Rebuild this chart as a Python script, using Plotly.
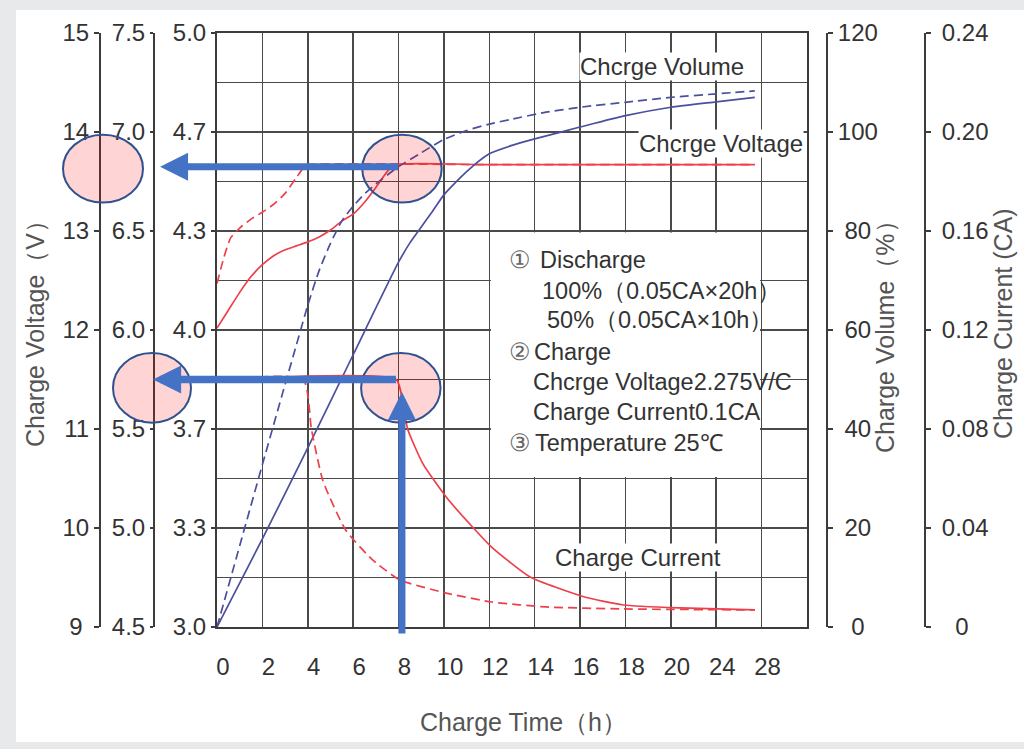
import plotly.graph_objects as go

# ---------------- data ----------------
hour_ticks = [0, 2, 4, 6, 8, 10, 12, 14, 16, 18, 20, 22, 24]
hour_tick_text = ["0", "2", "4", "6", "8", "10", "12", "14", "16", "18", "20", "24", "28"]

v12_ticks = [9, 10, 11, 12, 13, 14, 15]
v12_tick_text = ["9\u00a0", "10", "11", "12", "13", "14", "15"]
v6_ticks = [4.5, 5.0, 5.5, 6.0, 6.5, 7.0, 7.5]
v6_tick_text = ["4.5", "5.0", "5.5", "6.0", "6.5", "7.0", "7.5"]
cell_ticks = [3.0, 10 / 3, 11 / 3, 4.0, 13 / 3, 14 / 3, 5.0]
cell_tick_text = ["3.0", "3.3", "3.7", "4.0", "4.3", "4.7", "5.0"]
cell_minor = [3 + 1 / 6, 3.5, 3 + 5 / 6, 4 + 1 / 6, 4.5, 4 + 5 / 6]
volume_ticks = [0, 20, 40, 60, 80, 100, 120]
volume_tick_text = ["\u00a0\u00a00", "\u00a020", "\u00a040", "\u00a060", "\u00a080", "100", "120"]
current_ticks = [0, 0.04, 0.08, 0.12, 0.16, 0.20, 0.24]
current_tick_text = ["\u00a0\u00a00", "0.04", "0.08", "0.12", "0.16", "0.20", "0.24"]

# charge voltage (V, 12 V scale)
t_volt_100 = [0, 0.5, 1, 1.5, 2, 2.5, 3, 3.5, 4, 4.5, 5, 5.5, 6, 6.5, 7, 7.5, 7.85, 12, 18, 23.7]
volt_100 = [12.02, 12.2, 12.38, 12.54, 12.66, 12.75, 12.81, 12.85, 12.89, 12.94, 13.01, 13.1,
            13.17, 13.29, 13.44, 13.6, 13.67, 13.67, 13.67, 13.67]
t_volt_50 = [0, 0.3, 0.6, 1, 1.5, 2, 2.5, 3, 3.5, 3.85, 4.0, 12, 23.7]
volt_50 = [12.47, 12.73, 12.93, 13.03, 13.12, 13.19, 13.27, 13.38, 13.54, 13.65, 13.67, 13.67, 13.67]

# charge volume (%)
t_vol_100 = [0, 2, 4, 6, 8, 8.5, 9, 9.5, 10, 11, 12, 13, 14, 16, 18, 20, 22, 23.7]
vol_100 = [0, 17.8, 36.2, 55, 73.7, 77.6, 80.8, 84, 87.3, 92, 95.6, 97.3, 98.6, 101, 103.3, 105, 106.1, 107]
t_vol_50 = [0, 1, 2, 3, 3.5, 4, 4.5, 5, 5.5, 6, 6.5, 7, 8, 9, 10, 11, 12, 13, 14.5, 16, 18, 20, 22, 23.7]
vol_50 = [0, 16.4, 32.8, 49, 57, 65, 72, 77.5, 82, 85, 87.5, 89.5, 93, 95.8, 98.5, 100.3, 101.6,
          102.6, 104, 105, 106, 107, 107.7, 108.3]

# charge current (CA)
t_cur_100 = [0, 7.9, 8.2, 8.4, 9.07, 10.1, 11.1, 12.1, 13.8, 16.2, 17.9, 20.4, 23.7]
cur_100 = [0.1, 0.1, 0.09, 0.08, 0.066, 0.0525, 0.042, 0.0323, 0.0202, 0.0121, 0.0089, 0.0077, 0.0069]
t_cur_50 = [0, 3.8, 4.16, 4.67, 5.68, 6.87, 8.06, 10.1, 12.1, 14.5, 17.9, 23.7]
cur_50 = [0.1, 0.1, 0.08, 0.059, 0.039, 0.027, 0.019, 0.0137, 0.0101, 0.0081, 0.0073, 0.0069]

legend_lines = [
    ("\u2460", 507, 260), ("Discharge", 538, 260),
    ("100%\uff080.05CA\u00d720h\uff09", 540, 291),
    ("50%\uff080.05CA\u00d710h\uff09", 545, 320),
    ("\u2461", 507, 352), ("Charge", 532, 352),
    ("Chcrge Voltage2.275V/C", 531, 382),
    ("Charge Current0.1CA", 531, 412),
    ("\u2462", 507, 443), ("Temperature 25\u2103", 533, 443),
]

# ---------------- styling ----------------
W, H = 1024, 749
RED = "#ee404b"
BLUE = "#4a4f9e"
GRID = "#4a4a4a"
AX = "#3c3c3c"
TXT = "#333333"
ARROW = "#4472c4"
FONT = "Liberation Sans, Arial, sans-serif"


def px(x):
    return x / W


def py(y):
    return 1 - y / H


fig = go.Figure()

line_w = 1.7
fig.add_trace(go.Scatter(x=t_volt_50, y=volt_50, yaxis="y2", mode="lines",
                         line=dict(color=RED, width=line_w, dash="9px,5px", shape="spline", smoothing=0.5)))
fig.add_trace(go.Scatter(x=t_volt_100, y=volt_100, yaxis="y2", mode="lines",
                         line=dict(color=RED, width=line_w, shape="spline", smoothing=0.5)))
fig.add_trace(go.Scatter(x=t_vol_50, y=vol_50, yaxis="y4", mode="lines",
                         line=dict(color=BLUE, width=line_w, dash="9px,5px", shape="spline", smoothing=0.6)))
fig.add_trace(go.Scatter(x=t_vol_100, y=vol_100, yaxis="y4", mode="lines",
                         line=dict(color=BLUE, width=line_w, shape="spline", smoothing=0.6)))
fig.add_trace(go.Scatter(x=t_cur_50, y=cur_50, yaxis="y5", mode="lines",
                         line=dict(color=RED, width=line_w, dash="9px,5px", shape="spline", smoothing=0.5)))
fig.add_trace(go.Scatter(x=t_cur_100, y=cur_100, yaxis="y5", mode="lines",
                         line=dict(color=RED, width=line_w, shape="spline", smoothing=0.5)))
# placeholder traces so the cell-voltage axes are created
fig.add_trace(go.Scatter(x=[None], y=[None], yaxis="y", hoverinfo="skip"))
fig.add_trace(go.Scatter(x=[None], y=[None], yaxis="y3", hoverinfo="skip"))

tickfont = dict(family=FONT, size=24, color=TXT)
x_dom = [px(217), px(807)]
y_dom = [1 - 627 / H, 1 - 33 / H]

common_free = dict(showgrid=False, zeroline=False, showline=True, linecolor=AX, linewidth=2,
                   ticks="outside", tickcolor=AX, tickwidth=2, tickfont=tickfont,
                   tickmode="array", fixedrange=True, automargin=False)

fig.update_layout(
    width=W, height=H,
    margin=dict(l=0, r=0, t=0, b=0, pad=0, autoexpand=False),
    paper_bgcolor="#e8e9eb",
    plot_bgcolor="white",
    showlegend=False,
    hovermode=False,
    font=dict(family=FONT, size=23, color=TXT),
    xaxis=dict(domain=x_dom, range=[0, 26], tickmode="array", tickvals=hour_ticks,
               ticktext=hour_tick_text, showgrid=True, gridcolor=GRID, gridwidth=1.6,
               zeroline=False, showline=True, linecolor=AX, linewidth=2, mirror=True,
               ticks="", tickfont=tickfont, ticklabelstandoff=17, ticklabelshift=6,
               fixedrange=True, automargin=False),
    yaxis=dict(domain=y_dom, range=[3, 5], tickvals=cell_ticks, ticktext=cell_tick_text,
               showgrid=True, gridcolor=GRID, gridwidth=1.6, mirror=True, ticklen=4,
               minor=dict(tickmode="array", tickvals=cell_minor, showgrid=True,
                          gridcolor=GRID, gridwidth=1.6, ticks=""),
               **{k: v for k, v in common_free.items() if k != "showgrid"}),
    yaxis2=dict(overlaying="y", anchor="free", position=px(100), side="left", range=[9, 15],
                tickvals=v12_ticks, ticktext=v12_tick_text, ticklen=5, **common_free),
    yaxis3=dict(overlaying="y", anchor="free", position=px(154), side="left", range=[4.5, 7.5],
                tickvals=v6_ticks, ticktext=v6_tick_text, ticklen=3, **common_free),
    yaxis4=dict(overlaying="y", anchor="free", position=px(827), side="right", range=[0, 120],
                tickvals=volume_ticks, ticktext=volume_tick_text, ticklen=5, **common_free),
    yaxis5=dict(overlaying="y", anchor="free", position=px(925), side="right", range=[0, 0.24],
                tickvals=current_ticks, ticktext=current_tick_text, ticklen=5,
                ticklabelstandoff=6, **common_free),
)

shapes = []
# white inner panel
shapes.append(dict(type="rect", xref="paper", yref="paper", x0=px(16), x1=1.0,
                   y0=py(742), y1=py(10), fillcolor="white", line=dict(width=0), layer="below"))
# condition box (white, hides grid)
shapes.append(dict(type="rect", xref="x", yref="y", x0=12.07, x1=23.93, y0=3.505, y1=4.328,
                   fillcolor="white", line=dict(width=0), layer="between"))

CIRCLE_FILL = "rgba(255,0,0,0.17)"
CIRCLE_LINE = dict(color="#2f528f", width=2)
volt_mark = 13.63
cur_mark = 0.0966
rx_h = 1.75          # hours
ry_v = 0.343         # volts
ry_c = 0.0141        # CA
shapes.append(dict(type="circle", xref="x", yref="y2", x0=8.15 - rx_h, x1=8.15 + rx_h,
                   y0=volt_mark - ry_v, y1=volt_mark + ry_v, fillcolor=CIRCLE_FILL,
                   line=CIRCLE_LINE, layer="above"))
shapes.append(dict(type="circle", xref="x", yref="y5", x0=8.1 - rx_h, x1=8.1 + rx_h,
                   y0=cur_mark - ry_c, y1=cur_mark + ry_c, fillcolor=CIRCLE_FILL,
                   line=CIRCLE_LINE, layer="above"))
shapes.append(dict(type="circle", xref="paper", yref="y2", x0=px(63), x1=px(143),
                   y0=volt_mark - ry_v, y1=volt_mark + ry_v, fillcolor=CIRCLE_FILL,
                   line=CIRCLE_LINE, layer="above"))
shapes.append(dict(type="circle", xref="paper", yref="y5", x0=px(113), x1=px(191),
                   y0=cur_mark - ry_c, y1=cur_mark + ry_c, fillcolor=CIRCLE_FILL,
                   line=CIRCLE_LINE, layer="above"))
fig.update_layout(shapes=shapes)

ann = []
# arrows
ann.append(dict(x=-2.51, y=13.65, xref="x", yref="y2", ax=8.05, ay=13.65, axref="x", ayref="y2",
                text="", showarrow=True, arrowhead=2, arrowsize=0.8, arrowwidth=7, arrowcolor=ARROW))
ann.append(dict(x=-2.82, y=0.1, xref="x", yref="y5", ax=7.95, ay=0.1, axref="x", ayref="y5",
                text="", showarrow=True, arrowhead=2, arrowsize=0.75, arrowwidth=7.5, arrowcolor=ARROW))
ann.append(dict(x=8.15, y=0.095, xref="x", yref="y5", ax=8.15, ay=-0.0032, axref="x", ayref="y5",
                text="", showarrow=True, arrowhead=2, arrowsize=0.8, arrowwidth=7, arrowcolor=ARROW))

# curve labels
for txt, cx, cy in [("Chcrge Volume", 662, 67), ("Chcrge Voltage", 721, 144), ("Charge Current", 638, 557)]:
    ann.append(dict(x=px(cx), y=py(cy), xref="paper", yref="paper", text=txt, showarrow=False,
                    xanchor="center", yanchor="middle", bgcolor="white", borderpad=0,
                    font=dict(family=FONT, size=24, color=TXT)))

# conditions text
for txt, lx, cy in legend_lines:
    is_num = txt in ("\u2460", "\u2461", "\u2462")
    ann.append(dict(x=px(lx), y=py(cy), xref="paper", yref="paper", text=txt, showarrow=False,
                    xanchor="left", yanchor="middle",
                    font=dict(family=FONT, size=23.5, color="#666666" if is_num else TXT)))

# axis titles
TITLE_FONT = dict(family=FONT, size=25, color="#555555")
for txt, cx, cy, ang in [("Charge Voltage\uff08V\uff09", 35, 328, -90),
                         ("Charge Volume\uff08%\uff09", 885, 331, -90),
                         ("Charge Current (CA)", 1003, 324, -90),
                         ("Charge Time\uff08h\uff09", 523, 722, 0)]:
    ann.append(dict(x=px(cx), y=py(cy), xref="paper", yref="paper", text=txt, textangle=ang,
                    xanchor="center", yanchor="middle", showarrow=False, font=TITLE_FONT))
fig.update_layout(annotations=ann)

fig.write_html("out.html", config={"displayModeBar": False, "staticPlot": True},
               post_script="document.body.style.margin='0px';document.body.style.overflow='hidden';")
